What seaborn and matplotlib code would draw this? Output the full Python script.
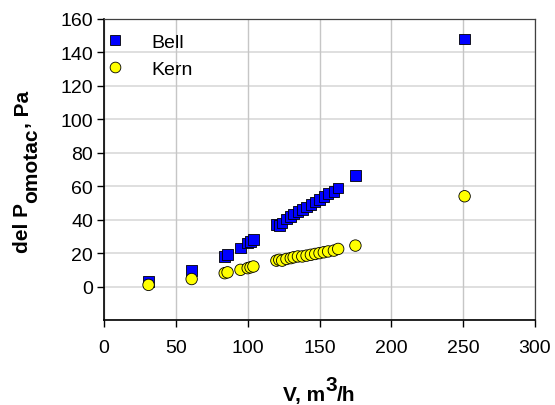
import matplotlib
matplotlib.use("Agg")
import matplotlib.pyplot as plt
import seaborn as sns
import pandas as pd
from matplotlib.lines import Line2D

# Data
flow_v = [31, 61, 84, 86, 95, 100, 102, 104, 120, 122, 124, 127, 130, 132, 135,
          138, 141, 144, 147, 150, 153, 156, 160, 163, 175, 251]
bell_dp = [3, 9.5, 18, 19, 23, 26, 27, 28, 37, 36.5, 38, 40.5, 42, 43.5, 45,
           46, 47.5, 49, 50.5, 52, 54, 55.5, 57, 59, 66.5, 148]
kern_dp = [1, 4.5, 8, 8.5, 10, 11, 11.5, 12, 15.5, 16, 15.5, 16.5, 17, 17.5, 18,
           18, 18.5, 19, 19.5, 20, 20.5, 21, 21.5, 22.5, 24.5, 54]
series_names = ["Bell", "Kern"]
x_ticks = [0, 50, 100, 150, 200, 250, 300]
y_ticks = [0, 20, 40, 60, 80, 100, 120, 140, 160]

sns.set_theme(style="white")
plt.rcParams['font.family'] = ['Liberation Sans', 'DejaVu Sans']
for k in ['text.color', 'axes.labelcolor', 'xtick.color', 'ytick.color']:
    plt.rcParams[k] = 'black'

df = pd.DataFrame({
    "V": flow_v * 2,
    "dP": bell_dp + kern_dp,
    "series": [series_names[0]] * len(flow_v) + [series_names[1]] * len(flow_v),
})

W, H = 555, 406
fig = plt.figure(figsize=(W / 100, H / 100), dpi=100)
ax = fig.add_axes([104 / W, 1 - 321 / H, 431 / W, 301 / H])

for y in range(-20, 161, 20):
    ax.axhline(y, color='#d6d6d6', lw=1.1, zorder=0)
for x in x_ticks:
    ax.axvline(x, color='#c6c6c6', lw=1.0, zorder=0)

sns.scatterplot(data=df, x="V", y="dP", hue="series", style="series",
                palette={"Bell": "#0000FF", "Kern": "#FFFF00"},
                markers={"Bell": "s", "Kern": "o"},
                size="series", sizes={"Bell": 58, "Kern": 68},
                edgecolor="black", linewidth=0.6, ax=ax, zorder=3, legend=False)

ax.set_xlim(0, 300)
ax.set_ylim(-20, 160)
ax.set_xticks(x_ticks)
ax.set_yticks(y_ticks)
ax.tick_params(axis='both', labelsize=14, direction='out', length=5, width=1,
               color='black', bottom=True, left=True)
ax.tick_params(axis='x', pad=9)
ax.tick_params(axis='y', pad=3)
ax.set_xlabel('')
ax.set_ylabel('')

for side in ['left', 'bottom']:
    ax.spines[side].set_color('black')
    ax.spines[side].set_linewidth(1.2)
for side in ['top', 'right']:
    ax.spines[side].set_color('#404040')
    ax.spines[side].set_linewidth(0.9)

handles = [
    Line2D([], [], marker='s', linestyle='none', markerfacecolor='#0000FF',
           markeredgecolor='black', markeredgewidth=0.6, markersize=7),
    Line2D([], [], marker='o', linestyle='none', markerfacecolor='#FFFF00',
           markeredgecolor='black', markeredgewidth=0.6, markersize=7.7),
]
ax.legend(handles, series_names, loc='upper left', frameon=False, fontsize=14,
          handlelength=0.75, handletextpad=1.5, borderaxespad=0.1, borderpad=0.1,
          labelspacing=0.5, bbox_to_anchor=(0.0, 1 - 10 / 301))

# Axis labels built from pieces so sub/superscripts keep full size
FS = 15
renderer = fig.canvas.get_renderer()


def make_piece(s, rot):
    return fig.text(0, 0, s, fontsize=FS, fontweight='bold', rotation=rot,
                    rotation_mode='anchor', ha='left', va='baseline')


# x label: "V, m" + superscript "3" + "/h"
x_pieces = [("V, m", 0), ("3", 10), ("/h", 0)]
objs = [make_piece(s, 0) for s, _ in x_pieces]
widths = [o.get_window_extent(renderer).width for o in objs]
x0 = (104 + 535) / 2 - sum(widths) / 2
base = H - 401.5
for o, (s, dy), w in zip(objs, x_pieces, widths):
    o.set_position((x0 / W, (base + dy) / H))
    x0 += w

# y label: "del P" + subscript "omotac" + ", Pa" (rotated 90)
y_pieces = [("del P", 0), ("omotac", 9), (", Pa", 0)]
objs = [make_piece(s, 90) for s, _ in y_pieces]
lengths = [o.get_window_extent(renderer).height for o in objs]
y0 = (H - 172) - sum(lengths) / 2
base_x = 28.5
for o, (s, dx), L in zip(objs, y_pieces, lengths):
    o.set_position(((base_x + dx) / W, y0 / H))
    y0 += L

fig.savefig("out.png", dpi=100)
